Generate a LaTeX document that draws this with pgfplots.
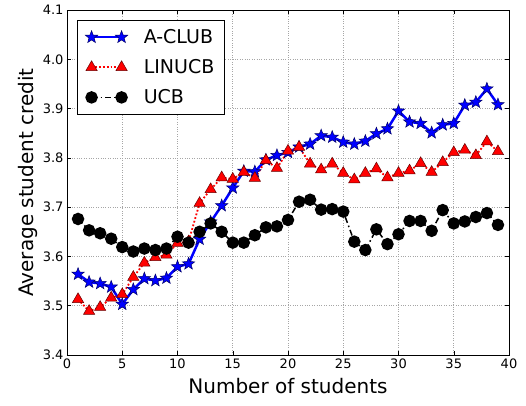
\documentclass[border=0pt]{standalone}
\usepackage{pgfplots}
\pgfplotsset{compat=1.18}
\usepackage{fontspec}
\setmainfont{DejaVu Sans}
\usetikzlibrary{plotmarks}
\pgfdeclareplotmark{fstar}{%
  \pgfpathmoveto{\pgfqpointpolar{90}{\pgfplotmarksize}}%
  \pgfpathlineto{\pgfqpointpolar{126}{0.42\pgfplotmarksize}}%
  \pgfpathlineto{\pgfqpointpolar{162}{\pgfplotmarksize}}%
  \pgfpathlineto{\pgfqpointpolar{198}{0.42\pgfplotmarksize}}%
  \pgfpathlineto{\pgfqpointpolar{234}{\pgfplotmarksize}}%
  \pgfpathlineto{\pgfqpointpolar{270}{0.42\pgfplotmarksize}}%
  \pgfpathlineto{\pgfqpointpolar{306}{\pgfplotmarksize}}%
  \pgfpathlineto{\pgfqpointpolar{342}{0.42\pgfplotmarksize}}%
  \pgfpathlineto{\pgfqpointpolar{18}{\pgfplotmarksize}}%
  \pgfpathlineto{\pgfqpointpolar{54}{0.42\pgfplotmarksize}}%
  \pgfpathclose
  \pgfusepathqfillstroke}
\begin{document}
\begin{tikzpicture}
\useasboundingbox (-67pt,-50pt) rectangle (459pt,355pt);
\begin{axis}[
  at={(0pt,0pt)}, anchor=south west,
  scale only axis, width=442pt, height=345pt,
  xmin=0, xmax=40, ymin=3.4, ymax=4.1,
  xtick={0,5,...,40}, ytick={3.4,3.5,...,4.1},
  yticklabel style={/pgf/number format/.cd, fixed, fixed zerofill, precision=1},
  /pgf/number format/assume math mode=true,
  ticklabel style={font=\fontsize{13}{15}\selectfont},
  label style={font=\fontsize{20}{24}\selectfont},
  xlabel={Number of students}, ylabel={Average student credit},
  xlabel style={yshift=-3pt},
  ylabel style={yshift=-2pt},
  grid=major, grid style={gray!70, dotted, line width=0.6pt},
  tick align=inside, major tick length=4pt, tick style={black, line width=0.5pt},
  axis line style={line width=0.8pt},
  legend cell align=left,
  legend style={at={(0.0226,0.971)}, anchor=north west, draw=black, line width=0.8pt,
    font=\fontsize{19}{22}\selectfont, row sep=10.5pt, inner xsep=8pt, inner ysep=7pt,
    /tikz/every odd column/.append style={column sep=14pt}},
  legend image code/.code={%
    \draw[#1,mark=none] (0pt,0pt) -- (30pt,0pt);
    \path[#1] plot coordinates {(0pt,0pt) (30pt,0pt)};},
]
\addplot[blue, line width=2.5pt, mark=fstar, mark size=6.5pt,
  mark options={solid, fill=blue, draw=blue!40!black, line width=0.5pt}] coordinates {
(1,3.564) (2,3.548) (3,3.545) (4,3.538) (5,3.503) (6,3.533) (7,3.555) (8,3.551) (9,3.556) (10,3.579)
(11,3.585) (12,3.635) (13,3.670) (14,3.703) (15,3.739) (16,3.773) (17,3.772) (18,3.796) (19,3.805) (20,3.811)
(21,3.822) (22,3.828) (23,3.845) (24,3.842) (25,3.832) (26,3.828) (27,3.834) (28,3.849) (29,3.859) (30,3.895)
(31,3.873) (32,3.870) (33,3.851) (34,3.867) (35,3.870) (36,3.907) (37,3.913) (38,3.940) (39,3.908)};
\addlegendentry{A-CLUB}
\addplot[red, line width=1.8pt, dotted, mark=triangle*, mark size=6.5pt,
  mark options={solid, fill=red, draw=red!40!black, line width=0.5pt}] coordinates {
(1,3.513) (2,3.489) (3,3.497) (4,3.516) (5,3.523) (6,3.558) (7,3.587) (8,3.598) (9,3.603) (10,3.627)
(11,3.630) (12,3.708) (13,3.736) (14,3.760) (15,3.757) (16,3.771) (17,3.759) (18,3.795) (19,3.779) (20,3.814)
(21,3.822) (22,3.788) (23,3.776) (24,3.788) (25,3.769) (26,3.756) (27,3.769) (28,3.778) (29,3.760) (30,3.769)
(31,3.774) (32,3.789) (33,3.771) (34,3.791) (35,3.811) (36,3.816) (37,3.805) (38,3.833) (39,3.813)};
\addlegendentry{LINUCB}
\addplot[black, line width=1.5pt, dash pattern=on 6pt off 3pt on 1.5pt off 3pt, mark=*, mark size=5.5pt,
  mark options={solid, fill=black}] coordinates {
(1,3.676) (2,3.653) (3,3.647) (4,3.636) (5,3.619) (6,3.610) (7,3.616) (8,3.613) (9,3.616) (10,3.640)
(11,3.628) (12,3.650) (13,3.667) (14,3.650) (15,3.628) (16,3.628) (17,3.643) (18,3.659) (19,3.661) (20,3.674)
(21,3.711) (22,3.715) (23,3.695) (24,3.696) (25,3.691) (26,3.630) (27,3.613) (28,3.655) (29,3.625) (30,3.645)
(31,3.672) (32,3.672) (33,3.652) (34,3.694) (35,3.667) (36,3.671) (37,3.680) (38,3.688) (39,3.664)};
\addlegendentry{UCB}
\end{axis}
\end{tikzpicture}
\end{document}
